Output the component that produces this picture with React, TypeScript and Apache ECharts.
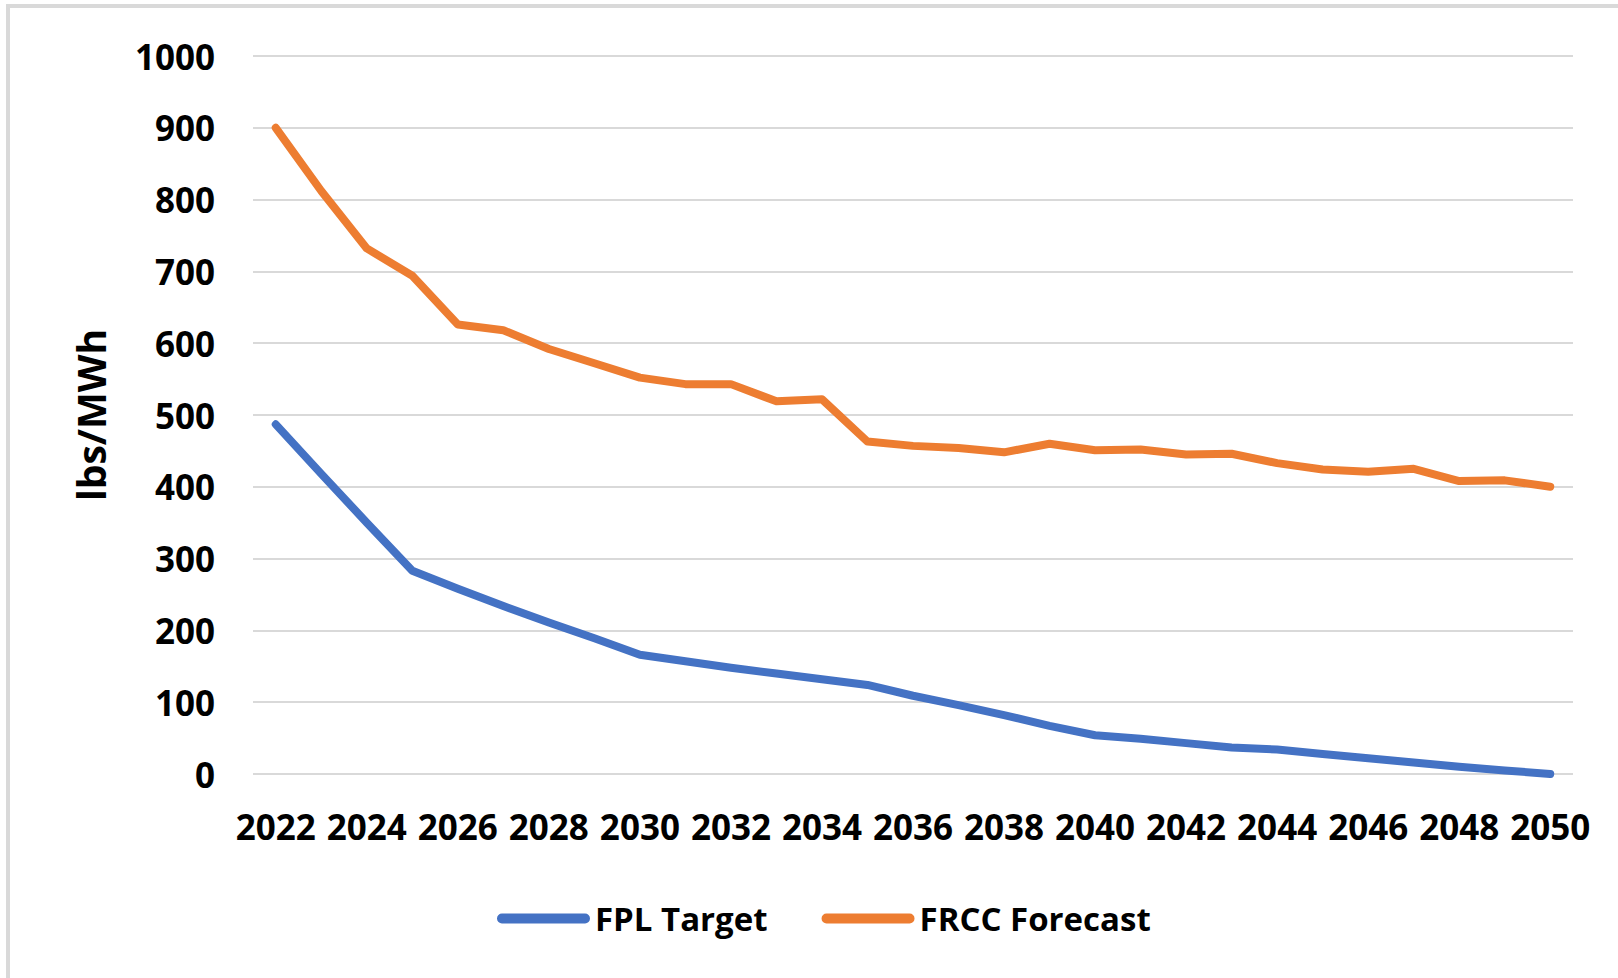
import React, { useEffect, useRef } from "react";
import * as echarts from "echarts";

const years = [
  "2022", "2023", "2024", "2025", "2026", "2027", "2028", "2029", "2030", "2031",
  "2032", "2033", "2034", "2035", "2036", "2037", "2038", "2039", "2040", "2041",
  "2042", "2043", "2044", "2045", "2046", "2047", "2048", "2049", "2050",
];

const fplTarget = [
  487, 418, 350, 283, 258, 234, 211, 189, 166, 157,
  148, 140, 132, 124, 109, 96, 82, 67, 54, 49,
  43, 37, 34, 28, 22, 16, 10, 5, 0,
];

const frccForecast = [
  900, 812, 732, 694, 626, 618, 592, 572, 552, 543,
  543, 519, 522, 463, 457, 454, 448, 460, 451, 452,
  445, 446, 433, 424, 421, 425, 408, 409, 400,
];

const seriesNames = ["FPL Target", "FRCC Forecast"];
const seriesColors = ["#4472C4", "#ED7D31"];

const FONT = "'Open Sans', 'DejaVu Sans', sans-serif";

export default function App() {
  const ref = useRef<HTMLDivElement>(null);

  useEffect(() => {
    document.body.style.margin = "0";
    if (!ref.current) return;
    const chart = echarts.init(ref.current, undefined, { renderer: "svg" });
    const pill = "path://M5,0 L89,0 A5,5 0 0 1 89,10 L5,10 A5,5 0 0 1 5,0 Z";
    chart.setOption({
      animation: false,
      backgroundColor: "#ffffff",
      graphic: [
        {
          type: "rect",
          shape: { x: 8, y: 6, width: 1700, height: 1100 },
          style: { fill: "none", stroke: "#d9d9d9", lineWidth: 4 },
          silent: true,
        },
      ],
      grid: { left: 253, right: 45, top: 56, bottom: 204, containLabel: false },
      legend: {
        left: 492,
        top: 897,
        itemWidth: 93,
        itemHeight: 10,
        itemGap: 54,
        icon: pill,
        textStyle: { fontFamily: FONT, fontSize: 33, fontWeight: "bold", color: "#000" },
        data: seriesNames,
      },
      xAxis: {
        type: "category",
        data: years,
        boundaryGap: true,
        axisLine: { show: false },
        axisTick: { show: false },
        axisLabel: {
          interval: 1,
          margin: 35,
          fontFamily: FONT,
          fontSize: 35,
          fontWeight: "bold",
          color: "#000",
        },
      },
      yAxis: {
        type: "value",
        min: 0,
        max: 1000,
        interval: 100,
        name: "lbs/MWh",
        nameLocation: "middle",
        nameGap: 143,
        nameTextStyle: { fontFamily: FONT, fontSize: 39, fontWeight: "bold", color: "#000" },
        axisLine: { show: false },
        axisTick: { show: false },
        splitLine: { lineStyle: { color: "#d9d9d9", width: 2 } },
        axisLabel: {
          margin: 38,
          fontFamily: FONT,
          fontSize: 35,
          fontWeight: "bold",
          color: "#000",
          formatter: (v: number) => String(v),
        },
      },
      series: [
        {
          name: seriesNames[0],
          type: "line",
          data: fplTarget,
          symbol: "none",
          color: seriesColors[0],
          lineStyle: { width: 8, color: seriesColors[0], cap: "round", join: "round" },
        },
        {
          name: seriesNames[1],
          type: "line",
          data: frccForecast,
          symbol: "none",
          color: seriesColors[1],
          lineStyle: { width: 8, color: seriesColors[1], cap: "round", join: "round" },
        },
      ],
    });
    return () => chart.dispose();
  }, []);

  return <div ref={ref} style={{ width: 1618, height: 978 }} />;
}
